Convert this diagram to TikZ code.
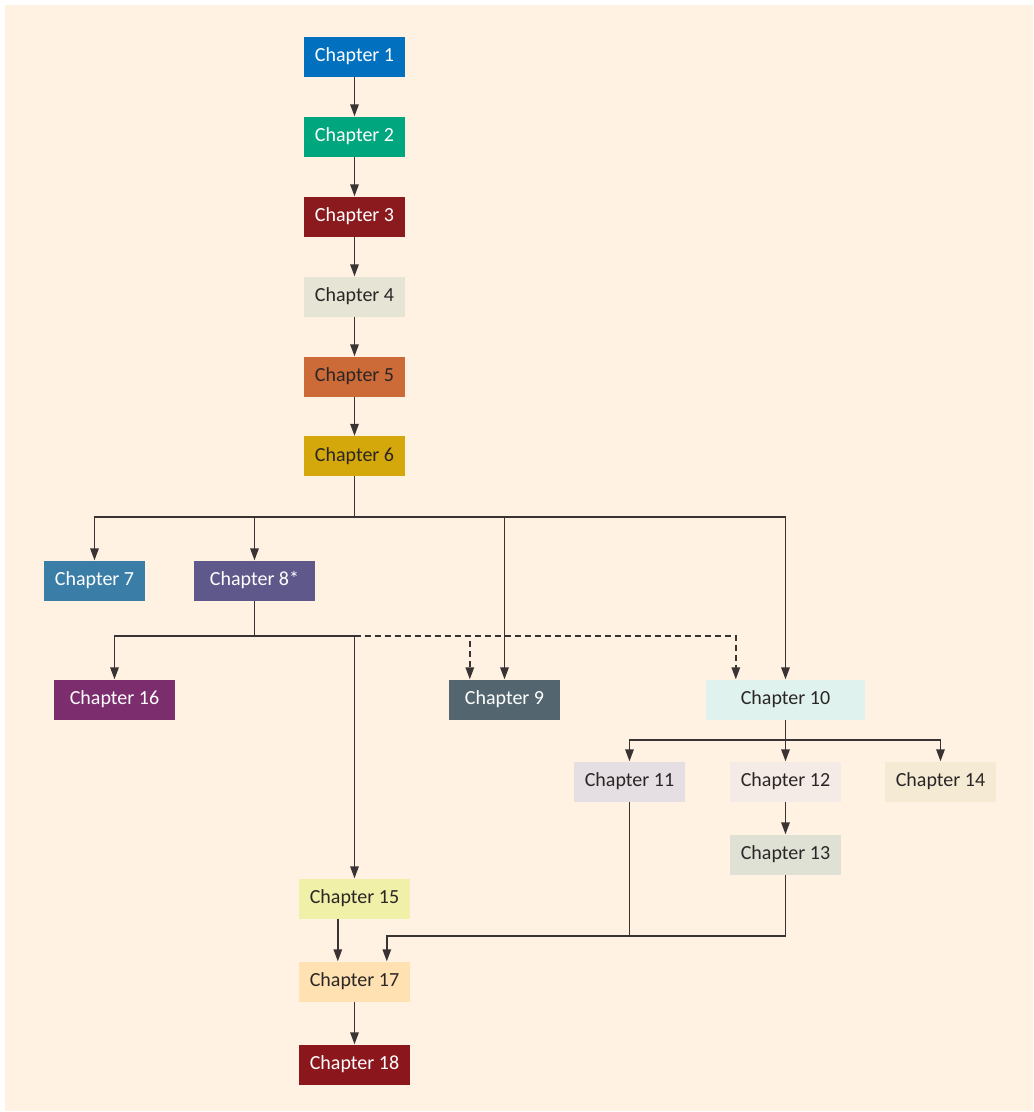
\documentclass[tikz,border=0pt]{standalone}
\usepackage{fontspec}
\setmainfont{Carlito}
\usetikzlibrary{arrows.meta}

\definecolor{bgcream}{HTML}{FFF2E2}
\definecolor{linegray}{HTML}{3A3333}
\definecolor{darktext}{HTML}{2A2626}
\definecolor{chOne}{HTML}{0070BF}
\definecolor{chTwo}{HTML}{00A67E}
\definecolor{chThree}{HTML}{8B1A1E}
\definecolor{chFour}{HTML}{E6E4D5}
\definecolor{chFive}{HTML}{CC6A38}
\definecolor{chSix}{HTML}{D4A70A}
\definecolor{chSeven}{HTML}{3A7EA8}
\definecolor{chEight}{HTML}{5F588B}
\definecolor{chNine}{HTML}{53666F}
\definecolor{chTen}{HTML}{E0F2EE}
\definecolor{chEleven}{HTML}{E5DEE3}
\definecolor{chTwelve}{HTML}{F5EBE6}
\definecolor{chThirteen}{HTML}{E0E1D5}
\definecolor{chFourteen}{HTML}{F5EBD5}
\definecolor{chFifteen}{HTML}{F0F0A8}
\definecolor{chSixteen}{HTML}{7B2D6D}
\definecolor{chSeventeen}{HTML}{FFE1B2}
\definecolor{chEighteen}{HTML}{8B171D}

\begin{document}
\begin{tikzpicture}[
		x=1pt, y=-1pt,
		every node/.style = {shape=rectangle, align=center, inner sep=0pt,
			minimum height=40pt, minimum width=111pt,
			font=\fontsize{20}{20}\selectfont},
		dark/.style = {fill=#1, text=white},
		light/.style = {fill=#1, text=darktext},
		link/.style = {draw=linegray, line width=1.5pt},
		arr/.style = {link, -{Triangle[length=12pt,width=8.5pt]}},
		maybe/.style = {arr, dash pattern=on 6pt off 4pt}]
		\fill[bgcream] (5,5) rectangle (1033,1111);
		\useasboundingbox (0,0) rectangle (1034,1112);
		% main line
		\node[dark=chOne, minimum width=101pt] (c1) at (354.5,56.5) {Chapter 1};
		\node[dark=chTwo, minimum width=101pt] (c2) at (354.5,136.5) {Chapter 2};
		\node[dark=chThree, minimum width=101pt] (c3) at (354.5,216.5) {Chapter 3};
		\node[light=chFour, minimum width=101pt] (c4) at (354.5,296.5) {Chapter 4};
		\node[light=chFive, minimum width=101pt] (c5) at (354.5,376.5) {Chapter 5};
		\node[light=chSix, minimum width=101pt] (c6) at (354.5,456) {Chapter 6};
		% second row
		\node[dark=chSeven, minimum width=101pt] (c7) at (94.5,580.5) {Chapter 7};
		\node[dark=chEight, minimum width=121pt] (c8) at (254.5,580.5) {Chapter 8*};
		% third row
		\node[dark=chSixteen, minimum width=121pt] (c16) at (114.5,699.5) {Chapter 16};
		\node[dark=chNine] (c9) at (504.5,699.5) {Chapter 9};
		\node[light=chTen, minimum width=159pt] (c10) at (785.5,699.5) {Chapter 10};
		% after chapter 10
		\node[light=chEleven] (c11) at (629.5,781.5) {Chapter 11};
		\node[light=chTwelve] (c12) at (785.5,781.5) {Chapter 12};
		\node[light=chFourteen] (c14) at (940.5,781.5) {Chapter 14};
		\node[light=chThirteen] (c13) at (785.5,854.5) {Chapter 13};
		% last column
		\node[light=chFifteen] (c15) at (354.5,898.5) {Chapter 15};
		\node[light=chSeventeen] (c17) at (354.5,981.5) {Chapter 17};
		\node[dark=chEighteen] (c18) at (354.5,1064.5) {Chapter 18};

		\foreach \a/\b in {c1/c2, c2/c3, c3/c4, c4/c5, c5/c6, c12/c13, c17/c18}
			\draw[arr] (\a) -- (\b);

		% branch below chapter 6
		\coordinate (j6) at (354.5,517);
		\draw[link] (c6) -- (j6);
		\foreach \t in {c7, c8, c9, c10}
			\draw[arr] (j6) -| (\t);

		% branch below chapter 8
		\coordinate (j8) at (254.5,636);
		\coordinate (d8) at (354.5,636);
		\draw[link] (c8) -- (j8);
		\draw[arr] (j8) -| (c16);
		\draw[arr] (j8) -| (c15);
		\draw[maybe] (d8) -| ([xshift=21pt]c9.north west);
		\draw[maybe] (d8) -| ([xshift=30pt]c10.north west);

		% branch below chapter 10
		\coordinate (j10) at (785.5,740);
		\draw[link] (c10) -- (j10);
		\foreach \t in {c11, c12, c14}
			\draw[arr] (j10) -| (\t);

		% into chapter 17
		\coordinate (m13) at (785.5,936);
		\draw[link] (c11) -- (c11 |- m13);
		\draw[arr] (c13) -- (m13) -| ([xshift=88pt]c17.north west);
		\draw[arr] ([xshift=39pt]c15.south west) -- ([xshift=39pt]c17.north west);
	\end{tikzpicture}
\end{document}
